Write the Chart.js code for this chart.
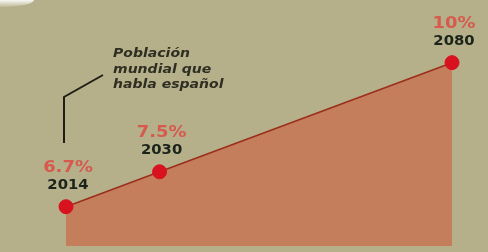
<!DOCTYPE html>
<html>
<head>
<meta charset="utf-8">
<script src="https://cdn.jsdelivr.net/npm/chart.js@4"></script>
<style>
  html, body { margin: 0; padding: 0; background: #b5b08a; }
  #wrap { width: 488px; height: 252px; }
</style>
</head>
<body>
<div id="wrap"><canvas id="c" width="488" height="252"></canvas></div>
<script>
// datos
const years = [2014, 2030, 2080];
const shares = [6.7, 7.5, 10];
const shareLabels = ["6.7%", "7.5%", "10%"];
const note = ["Población", "mundial que", "habla español"];

// fondo + reflejo arriba a la izquierda
const bgPlugin = {
  id: "bg",
  beforeDraw(chart) {
    const ctx = chart.ctx;
    ctx.save();
    ctx.fillStyle = "#b5b08a";
    ctx.fillRect(0, 0, chart.width, chart.height);
    const g = ctx.createLinearGradient(0, 0, 0, 8);
    g.addColorStop(0, "rgba(255,255,255,0.9)");
    g.addColorStop(1, "rgba(255,255,255,0)");
    ctx.fillStyle = g;
    ctx.beginPath();
    ctx.ellipse(0, 0, 34, 7, 0, 0, Math.PI * 2);
    ctx.fill();
    ctx.restore();
  }
};

// texto estirado en horizontal, como en la imagen
function wideText(ctx, t, x, y, sx) {
  ctx.save();
  ctx.translate(x, y);
  ctx.scale(sx, 1);
  ctx.fillText(t, 0, 0);
  ctx.restore();
}

// etiquetas de los puntos y la nota
const labelPlugin = {
  id: "labels",
  afterDatasetsDraw(chart) {
    const ctx = chart.ctx;
    const meta = chart.getDatasetMeta(0);
    ctx.save();
    ctx.textAlign = "center";
    ctx.textBaseline = "middle";
    meta.data.forEach((pt, i) => {
      ctx.font = "bold 16px 'DejaVu Sans', sans-serif";
      ctx.fillStyle = "#d65a4e";
      wideText(ctx, shareLabels[i], pt.x + 2, pt.y - 39, 1.12);
      ctx.font = "bold 13.5px 'DejaVu Sans', sans-serif";
      ctx.fillStyle = "#1b241a";
      wideText(ctx, String(years[i]), pt.x + 2, pt.y - 21, 1.1);
    });

    // nota
    ctx.textAlign = "left";
    ctx.font = "bold italic 13px 'DejaVu Sans', sans-serif";
    ctx.fillStyle = "#2e2e22";
    note.forEach((t, i) => wideText(ctx, t, 113, 54 + i * 15.5, 1.08));
    ctx.strokeStyle = "#1e1e14";
    ctx.lineWidth = 2;
    ctx.beginPath();
    ctx.moveTo(103, 75);
    ctx.lineTo(64, 97);
    ctx.lineTo(64, 143);
    ctx.stroke();
    ctx.restore();
  }
};

new Chart(document.getElementById("c"), {
  type: "line",
  data: {
    datasets: [{
      data: years.map((y, i) => ({ x: y, y: shares[i] })),
      borderColor: "#9c2e1c",
      borderWidth: 1.6,
      backgroundColor: "#c47e5c",
      fill: "start",
      tension: 0,
      pointRadius: 7,
      pointHoverRadius: 7,
      pointBackgroundColor: "#d8121e",
      pointBorderColor: "#d8121e",
      pointBorderWidth: 1,
      clip: false,
    }],
  },
  options: {
    responsive: false,
    animation: false,
    layout: { autoPadding: false, padding: { left: 66, right: 36, top: 19, bottom: 6 } },
    plugins: { legend: { display: false }, tooltip: { enabled: false } },
    scales: {
      x: { type: "linear", min: 2014, max: 2080, display: false },
      y: { min: 5.8, max: 11, display: false },
    },
  },
  plugins: [bgPlugin, labelPlugin],
});
</script>
</body>
</html>
